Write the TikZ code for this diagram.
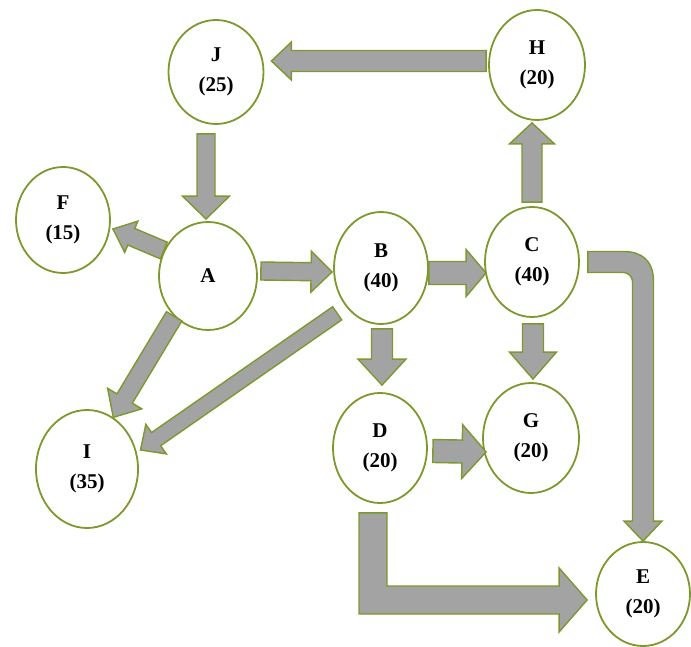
\documentclass[tikz,border=0pt]{standalone}
\usepackage{fontspec}
\setmainfont{Liberation Serif}
\usetikzlibrary{calc,shapes.geometric}

\definecolor{rimgreen}{RGB}{125,152,45}
\definecolor{flowgray}{RGB}{163,163,163}

\tikzset{
  task/.style={ellipse, draw=rimgreen, line width=1.8pt, fill=white,
    inner sep=0pt, align=center, minimum width=95pt, minimum height=110pt,
    font=\fontsize{21}{30}\selectfont\bfseries},
  flow/.style={draw=rimgreen, line width=1.4pt, fill=flowgray, line join=miter},
}

% straight block arrow: tail, tip, half shaft width, half head width, head length
\newcommand{\blockarrow}[5]{%
  \coordinate (ba-base) at ($(#2)!#5!(#1)$);
  \path[flow] ($(#1)!#3!90:(#2)$) -- ($(ba-base)!#3!90:(#2)$)
    -- ($(ba-base)!#4!90:(#2)$) -- (#2) -- ($(ba-base)!#4!-90:(#2)$)
    -- ($(ba-base)!#3!-90:(#2)$) -- ($(#1)!#3!-90:(#2)$) -- cycle;
}

\begin{document}
\begin{tikzpicture}[x=1pt,y=-1pt]
\useasboundingbox (0,0) rectangle (691,647);

% activities
\node[task, minimum height=104pt] (J) at (216,72) {J\\(25)};
\node[task, minimum width=96pt] (H) at (537,65) {H\\(20)};
\node[task, minimum width=94pt, minimum height=106pt] (F) at (63,220) {F\\(15)};
\node[task, minimum width=98pt, minimum height=108pt] (A) at (208,276) {A};
\node[task, minimum width=94pt, minimum height=112pt] (B) at (381,268) {B\\(40)};
\node[task, minimum width=94pt] (C) at (532,262) {C\\(40)};
\node[task, minimum width=102pt, minimum height=118pt] (I) at (87,469) {I\\(35)};
\node[task, minimum width=94pt] (D) at (380,448) {D\\(20)};
\node[task, minimum width=96pt] (G) at (531,438) {G\\(20)};
\node[task, minimum width=94pt, minimum height=104pt] (E) at (643,594) {E\\(20)};

% arrow ends
\coordinate (hjT) at ($(H.west)+(-2,-4)$);
\coordinate (hjH) at ($(J.east)+(7,-11)$);
\coordinate (jaT) at ($(J.south)+(-10,9)$);
\coordinate (jaH) at ($(A.north)+(-2,-2)$);
\coordinate (afH) at ($(F.east)+(2,9)$);
\coordinate (abT) at ($(A.east)+(3,-5)$);
\coordinate (abH) at ($(B.west)+(-1,4)$);
\coordinate (bcT) at ($(B.east)+(0,5)$);
\coordinate (bcH) at ($(C.west)+(2,11)$);
\coordinate (chT) at ($(C.north)+(0,-4)$);
\coordinate (chH) at ($(H.south)+(-5,2)$);
\coordinate (cgT) at ($(C.south)+(1,6)$);
\coordinate (cgH) at ($(G.north)+(2,-3)$);
\coordinate (bdT) at ($(B.south)+(1,4)$);
\coordinate (bdH) at ($(D.north)+(2,-7)$);
\coordinate (dgT) at ($(D.east)+(5,3)$);
\coordinate (dgH) at ($(G.west)+(4,14)$);
\coordinate (biT) at ($(B.230)+(-10,5)$);
\coordinate (biH) at ($(I.20)+(4,-1)$);

% straight arrows
\blockarrow{hjT}{hjH}{10.5pt}{19pt}{20pt}
\blockarrow{jaT}{jaH}{9pt}{23.5pt}{23pt}
\blockarrow{A.150}{afH}{9pt}{17pt}{20pt}
\blockarrow{abT}{abH}{9pt}{20.5pt}{21pt}
\blockarrow{bcT}{bcH}{11.5pt}{23.5pt}{20pt}
\blockarrow{chT}{chH}{10pt}{22.5pt}{21pt}
\blockarrow{cgT}{cgH}{10.5pt}{23.5pt}{27pt}
\blockarrow{bdT}{bdH}{10.5pt}{24pt}{26pt}
\blockarrow{dgT}{dgH}{11.5pt}{27pt}{24pt}
\blockarrow{A.230}{I.63}{9pt}{20pt}{22pt}
\blockarrow{biT}{biH}{8pt}{18pt}{19pt}

% C to E: right, round the corner, down
\coordinate (ceT) at ($(C.east)+(8,0)$);
\coordinate (ceH) at (E.north);
\coordinate (ceK) at (ceH |- ceT);
\path[flow] ($(ceT)+(0,-10.5)$) -- ($(ceK)+(-19.5,-10.5)$)
  .. controls ($(ceK)+(-2.9,-10.5)$) and ($(ceK)+(10.5,-2.9)$) .. ($(ceK)+(10.5,19.5)$)
  -- ($(ceH)+(10.5,-20)$) -- ($(ceH)+(19,-20)$) -- (ceH)
  -- ($(ceH)+(-19,-20)$) -- ($(ceH)+(-10.5,-20)$)
  -- ($(ceK)+(-10.5,19.5)$)
  .. controls ($(ceK)+(-10.5,14.9)$) and ($(ceK)+(-14.9,10.5)$) .. ($(ceK)+(-19.5,10.5)$)
  -- ($(ceT)+(0,10.5)$) -- cycle;

% D to E: down, then right
\coordinate (deT) at ($(D.south)+(-7,9)$);
\coordinate (deH) at ($(E.west)+(-8,6)$);
\coordinate (deK) at (deT |- deH);
\path[flow] ($(deT)+(-14,0)$) -- ($(deK)+(-14,14)$)
  -- ($(deH)+(-28,14)$) -- ($(deH)+(-28,32)$) -- (deH)
  -- ($(deH)+(-28,-32)$) -- ($(deH)+(-28,-14)$)
  -- ($(deK)+(14,-14)$) -- ($(deT)+(14,0)$) -- cycle;
\end{tikzpicture}
\end{document}
